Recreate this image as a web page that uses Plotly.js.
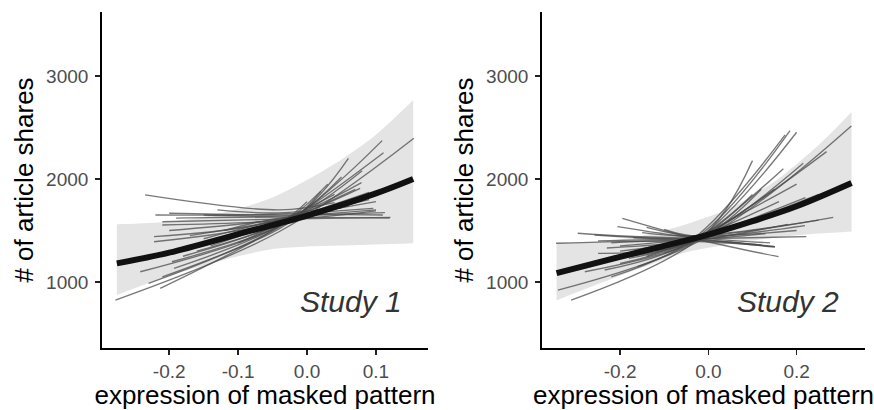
<!DOCTYPE html>
<html>
<head>
<meta charset="utf-8">
<script src="https://cdn.plot.ly/plotly-3.0.1.min.js"></script>
<style>html,body{margin:0;padding:0;background:#fff;}#chart{width:874px;height:410px;}</style>
</head>
<body>
<div id="chart"></div>
<script>
// ---------- Study 1 ----------
const s1FitX = [-0.276, -0.2, -0.1, 0.0, 0.1, 0.154];
const s1FitY = [1181, 1285, 1465, 1645, 1860, 2000];
const s1BandX = [-0.276, -0.2, -0.15, -0.1, -0.05, 0.0, 0.05, 0.1, 0.154];
const s1BandHi = [1560, 1585, 1630, 1710, 1820, 1990, 2190, 2430, 2767];
const s1BandLo = [874, 1060, 1160, 1250, 1320, 1345, 1355, 1365, 1376];
const s1X0 = [-0.278,-0.235,-0.23,-0.213,-0.242,-0.222,-0.222,-0.22,-0.2,-0.21,-0.21,-0.196,-0.193,-0.18,-0.17,-0.15,-0.16,-0.12,-0.2,-0.15,-0.1,-0.19,-0.13,-0.17,-0.21,-0.14];
const s1Y0 = [825,1845,987,939,1100,1440,1391,1650,1667,1585,1553,1197,1133,1250,1330,1420,1300,1500,1500,1650,1380,1620,1700,1450,1050,1350];
const s1XM = [-0.04,-0.04,-0.03,-0.04,-0.02,-0.04,-0.05,-0.04,-0.03,-0.04,-0.05,-0.03,-0.04,-0.02,-0.04,-0.05,-0.04,-0.03,-0.04,-0.04,-0.02,-0.04,-0.05,-0.04,-0.03,-0.04];
const s1YM = [1490,1700,1575,1540,1620,1600,1570,1660,1650,1610,1590,1580,1550,1620,1580,1590,1570,1630,1610,1640,1620,1630,1670,1600,1560,1590];
const s1X1 = [0.155,0.04,0.109,0.111,0.06,0.079,0.077,0.096,0.113,0.121,0.1,0.05,0.03,0.08,0.09,0.1,0.0,0.11,0.06,0.1,0.07,0.12,0.05,0.09,0.02,0.04];
const s1Y1 = [2395,1770,2372,2255,2200,1964,1909,1715,1673,1628,1690,2020,1950,2080,1870,1780,1780,1650,1740,1700,1900,1620,1720,1800,1880,1850];

// ---------- Study 2 ----------
const s2FitX = [-0.344, -0.2, -0.1, 0.0, 0.1, 0.2, 0.3245];
const s2FitY = [1087, 1245, 1350, 1460, 1590, 1735, 1961];
const s2BandX = [-0.344, -0.25, -0.15, -0.05, 0.05, 0.15, 0.25, 0.3245];
const s2BandHi = [1380, 1390, 1450, 1560, 1720, 1975, 2330, 2650];
const s2BandLo = [822, 980, 1140, 1290, 1370, 1430, 1470, 1490];
const s2X0 = [-0.345,-0.296,-0.195,-0.206,-0.311,-0.341,-0.235,-0.22,-0.25,-0.2,-0.18,-0.16,-0.14,-0.2,-0.1,-0.26,-0.258,-0.25,-0.22,-0.15,-0.1,-0.2,-0.17,-0.23,-0.14,-0.28,-0.12,-0.08];
const s2Y0 = [1376,1473,1618,1537,825,922,1117,1050,1278,1180,1230,1150,1250,1300,1280,1200,1456,1400,1380,1480,1510,1350,1430,1330,1530,1100,1300,1350];
const s2XM = [-0.04,-0.03,-0.02,-0.04,-0.03,-0.01,-0.03,-0.04,-0.02,-0.03,-0.01,-0.03,-0.04,-0.03,-0.02,-0.03,-0.04,-0.03,-0.02,-0.03,-0.04,-0.03,-0.02,-0.03,-0.04,-0.02,-0.03,-0.01];
const s2YM = [1395,1440,1410,1430,1390,1420,1420,1400,1430,1410,1440,1400,1410,1420,1420,1410,1425,1420,1405,1450,1450,1400,1420,1400,1440,1410,1420,1440];
const s2X1 = [0.151,0.283,0.159,0.15,0.2,0.324,0.185,0.174,0.1,0.268,0.215,0.17,0.2,0.25,0.15,0.1,0.219,0.222,0.151,0.25,0.2,0.12,0.13,0.18,0.14,0.12,0.16,0.22];
const s2Y1 = [1343,1628,1246,1340,2453,2515,2469,2427,2178,2265,2152,2100,1950,1850,1900,1850,1547,1440,1343,1600,1500,1360,1470,1560,1380,1900,1780,1820];

const yTicks = [1000, 2000, 3000];
const s1XTicks = [-0.2, -0.1, 0.0, 0.1];
const s1XTickText = ['-0.2', '-0.1', '0.0', '0.1'];
const s2XTicks = [-0.2, 0.0, 0.2];
const s2XTickText = ['-0.2', '0.0', '0.2'];
const labels = {x: 'expression of masked pattern', y: '# of article shares', s1: 'Study 1', s2: 'Study 2'};

function panel(xa, ya, bandX, hi, lo, x0, y0, xm, ym, x1, y1, fitX, fitY) {
  const tr = [];
  tr.push({x: bandX, y: lo, xaxis: xa, yaxis: ya, type: 'scatter', mode: 'lines',
    line: {width: 0, shape: 'spline', smoothing: 0.8}, hoverinfo: 'skip', showlegend: false});
  tr.push({x: bandX, y: hi, xaxis: xa, yaxis: ya, type: 'scatter', mode: 'lines', fill: 'tonexty', fillcolor: '#e4e4e4',
    line: {width: 0, shape: 'spline', smoothing: 0.8}, hoverinfo: 'skip', showlegend: false});
  for (let i = 0; i < x0.length; i++) {
    tr.push({x: [x0[i], xm[i], x1[i]], y: [y0[i], ym[i], y1[i]], xaxis: xa, yaxis: ya,
      type: 'scatter', mode: 'lines', line: {color: 'rgba(75,75,75,0.75)', width: 1.35, shape: 'spline', smoothing: 1},
      hoverinfo: 'skip', showlegend: false});
  }
  tr.push({x: fitX, y: fitY, xaxis: xa, yaxis: ya, type: 'scatter', mode: 'lines',
    line: {color: '#111111', width: 6, shape: 'spline'}, hoverinfo: 'skip', showlegend: false});
  return tr;
}

const data = [].concat(
  panel('x', 'y', s1BandX, s1BandHi, s1BandLo, s1X0, s1Y0, s1XM, s1YM, s1X1, s1Y1, s1FitX, s1FitY),
  panel('x2', 'y2', s2BandX, s2BandHi, s2BandLo, s2X0, s2Y0, s2XM, s2YM, s2X1, s2Y1, s2FitX, s2FitY)
);

const fontFam = 'Liberation Sans, Arial, Helvetica, sans-serif';
function xAxis(domain, range, tv, tt, anchor) {
  return {domain: domain, range: range, anchor: anchor, tickvals: tv, ticktext: tt,
    showline: true, linecolor: '#000', linewidth: 1.8, ticks: 'outside', ticklen: 5, tickwidth: 1.5, tickcolor: '#222',
    showgrid: false, zeroline: false, tickfont: {family: fontFam, size: 19, color: '#4d4d4d'},
    title: {text: labels.x, font: {family: fontFam, size: 26, color: '#000'}, standoff: 8}, automargin: false, fixedrange: true};
}
function yAxis(domain, anchor) {
  return {domain: domain, range: [360, 3620], anchor: anchor, tickvals: yTicks,
    showline: true, linecolor: '#000', linewidth: 1.8, ticks: 'outside', ticklen: 5, tickwidth: 1.5, tickcolor: '#222',
    showgrid: false, zeroline: false, ticklabelstandoff: 3, tickfont: {family: fontFam, size: 19, color: '#4d4d4d'},
    title: {text: labels.y, font: {family: fontFam, size: 26, color: '#000'}, standoff: 5}, automargin: false, fixedrange: true};
}

const layout = {
  width: 874, height: 410, margin: {l: 0, r: 0, t: 0, b: 0},
  paper_bgcolor: '#fff', plot_bgcolor: '#fff', showlegend: false,
  xaxis: xAxis([102/874, 428/874], [-0.2975, 0.1755], s1XTicks, s1XTickText, 'y'),
  yaxis: yAxis([62/410, 398/410], 'x'),
  xaxis2: xAxis([542/874, 865/874], [-0.377, 0.355], s2XTicks, s2XTickText, 'y2'),
  yaxis2: yAxis([62/410, 398/410], 'x2'),
  annotations: [
    {xref: 'x', yref: 'y', x: 0.14, y: 810, xanchor: 'right', yanchor: 'middle', showarrow: false,
     text: '<i>' + labels.s1 + '</i>', font: {family: fontFam, size: 30, color: '#333'}},
    {xref: 'x2', yref: 'y2', x: 0.30, y: 810, xanchor: 'right', yanchor: 'middle', showarrow: false,
     text: '<i>' + labels.s2 + '</i>', font: {family: fontFam, size: 30, color: '#333'}}
  ]
};

Plotly.newPlot('chart', data, layout, {staticPlot: true, displayModeBar: false});
</script>
</body>
</html>
